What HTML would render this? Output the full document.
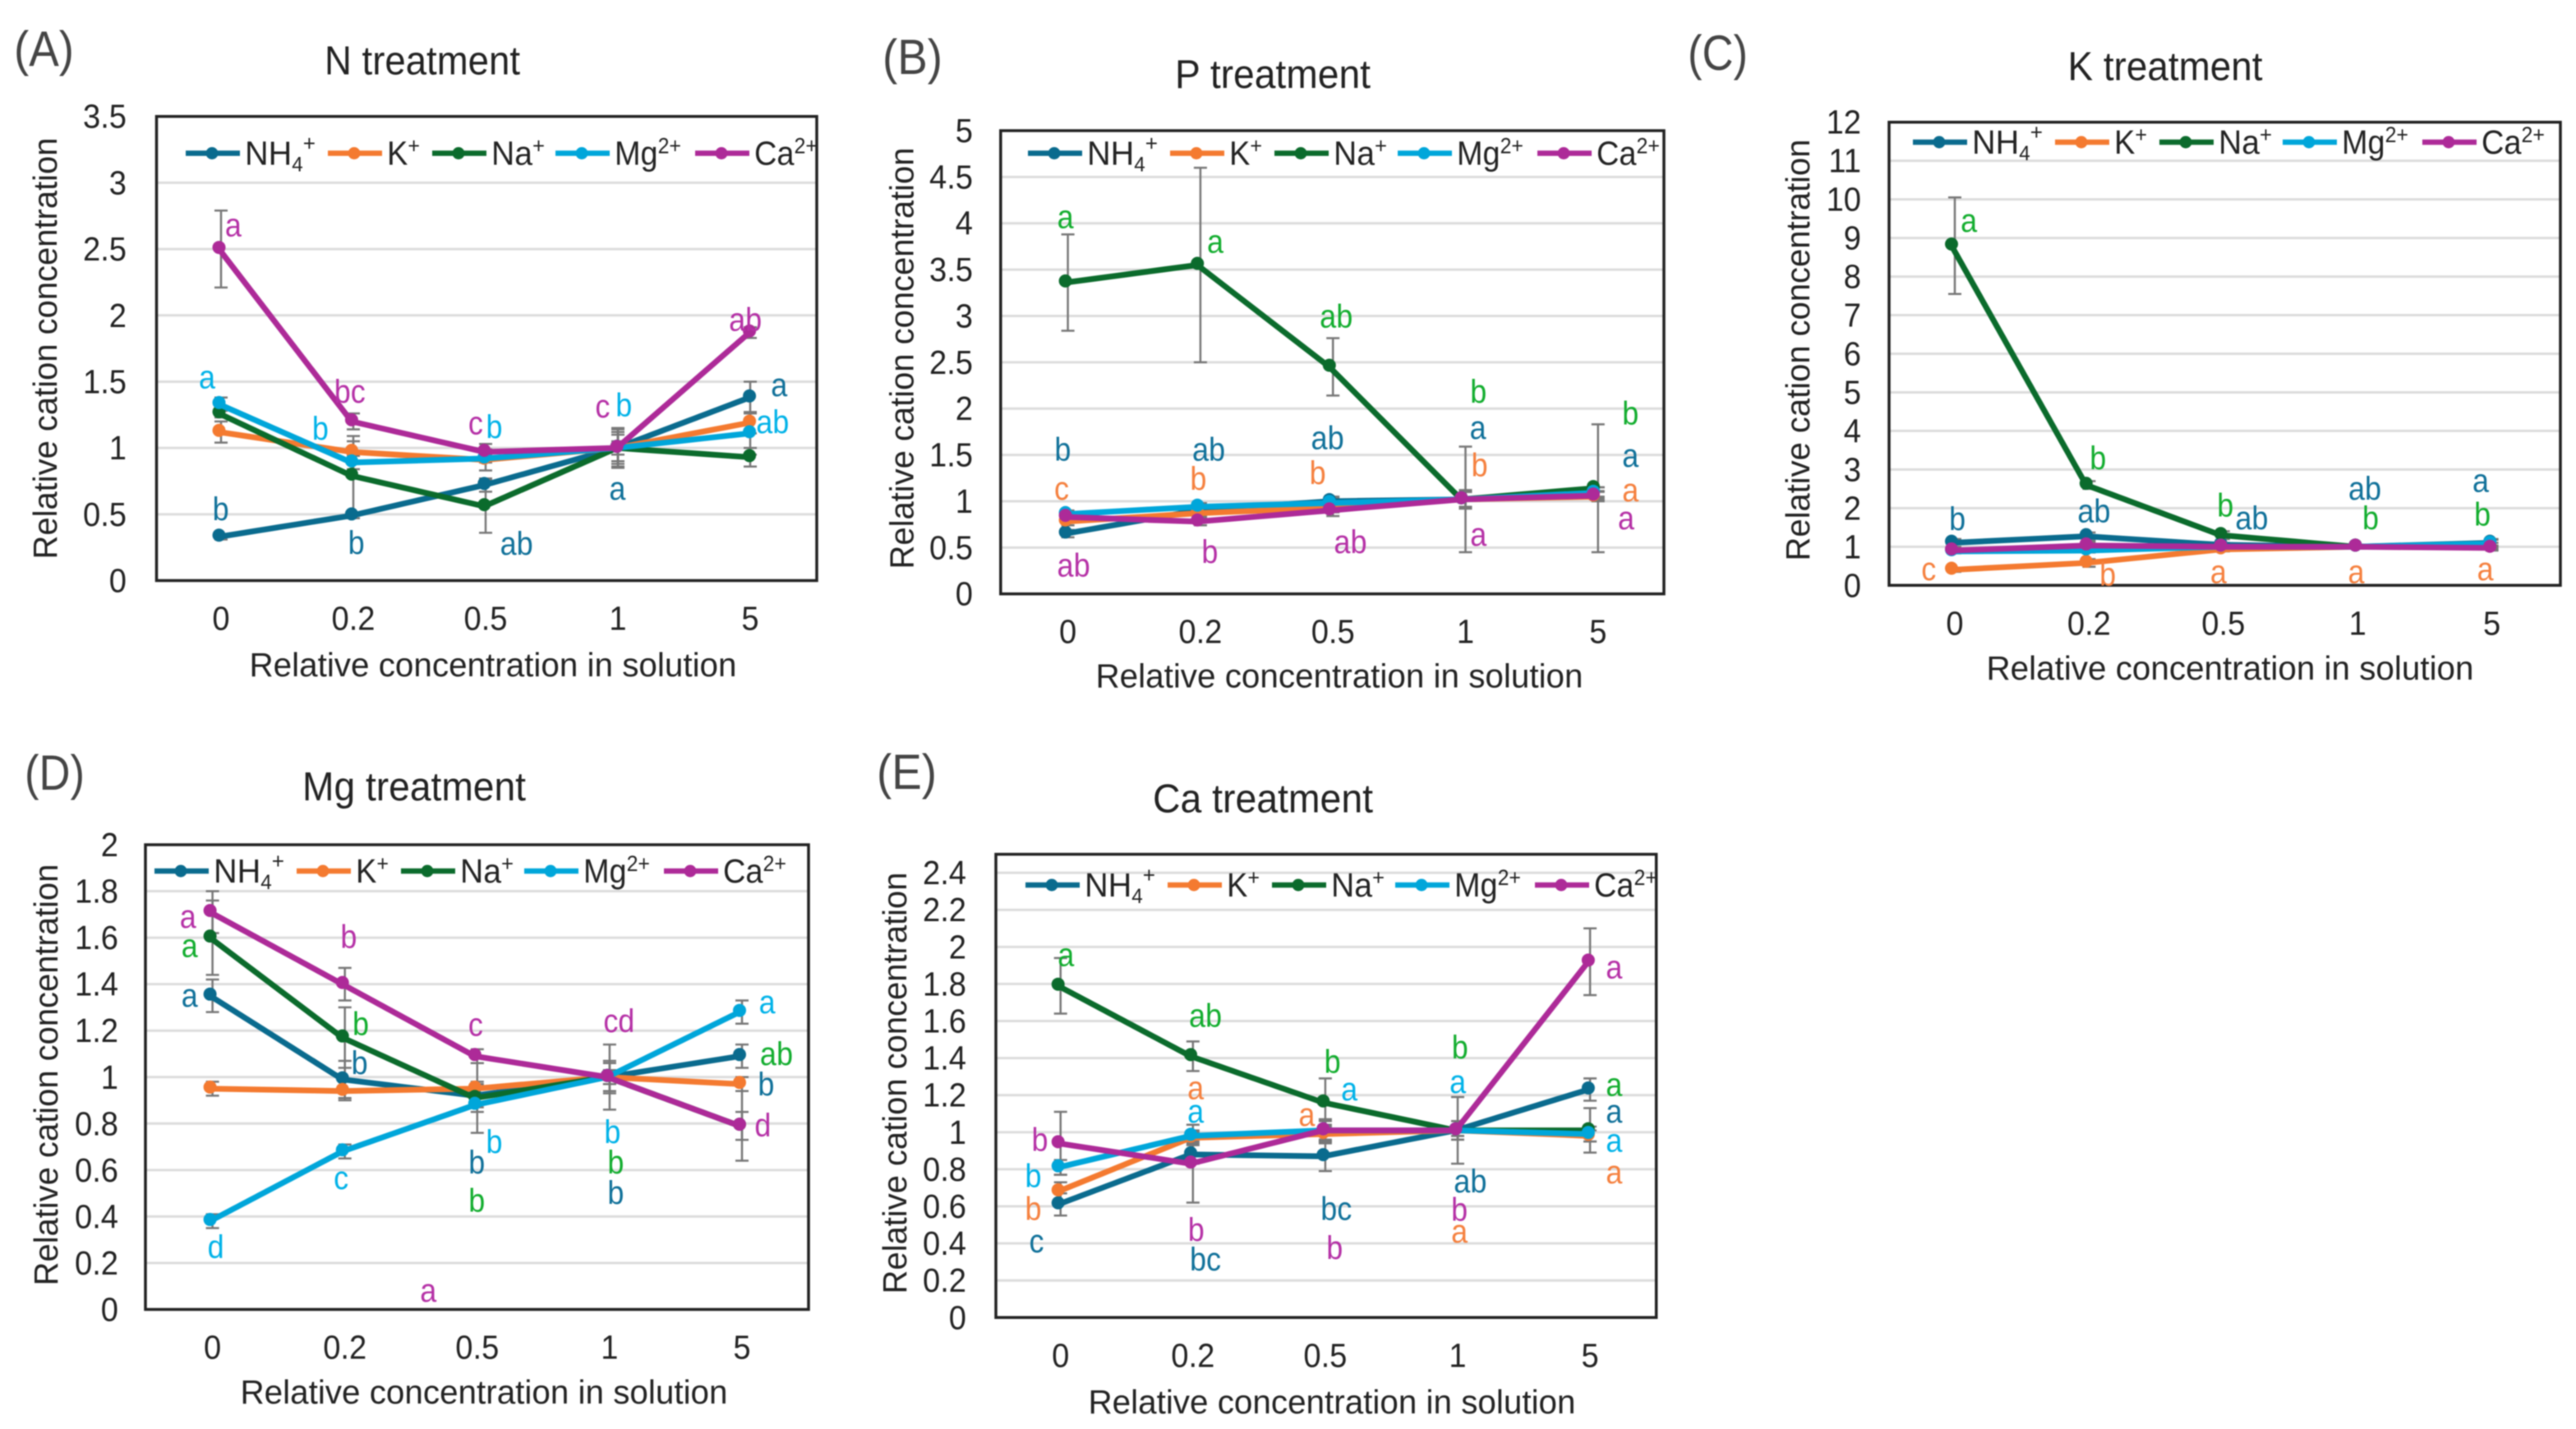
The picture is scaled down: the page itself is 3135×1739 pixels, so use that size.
<!DOCTYPE html>
<html lang="en">
<head>
<meta charset="utf-8">
<title>Relative cation concentration under nutrient treatments</title>
<style>
  html,body{margin:0;padding:0;background:#fff;width:3135px;height:1739px;overflow:hidden}
  svg{display:block;filter:blur(0.7px)}
  text{font-family:"Liberation Sans",sans-serif;fill:#222}
</style>
</head>
<body>
<svg id="figure" xmlns="http://www.w3.org/2000/svg" width="3135" height="1739" viewBox="0 0 3135 1739"></svg>
<script>
const categories = ["0", "0.2", "0.5", "1", "5"];
const seriesNames = ["NH4", "K", "Na", "Mg", "Ca"];

const panelA_max = 3.5;
const panelA_ticks = ["0", "0.5", "1", "1.5", "2", "2.5", "3", "3.5"];
const panelA_NH4 = [0.33, 0.49, 0.72, 1.0, 1.38];
const panelA_K = [1.12, 0.97, 0.91, 1.0, 1.19];
const panelA_Na = [1.26, 0.79, 0.56, 1.0, 0.93];
const panelA_Mg = [1.33, 0.89, 0.92, 1.0, 1.11];
const panelA_Ca = [2.5, 1.2, 0.97, 1.0, 1.87];
const panelA_errNH4 = [0.02, 0.02, 0.05, 0.15, 0.12];
const panelA_errK = [0.08, 0.08, 0.08, 0.12, 0.08];
const panelA_errNa = [0.03, 0.3, 0.2, 0.14, 0.07];
const panelA_errMg = [0.05, 0.05, 0.03, 0.1, 0.16];
const panelA_errCa = [0.29, 0.06, 0.06, 0.05, 0.04];

const panelB_max = 5;
const panelB_ticks = ["0", "0.5", "1", "1.5", "2", "2.5", "3", "3.5", "4", "4.5", "5"];
const panelB_NH4 = [0.65, 0.9, 1.0, 1.02, 1.1];
const panelB_K = [0.78, 0.87, 0.93, 1.02, 1.05];
const panelB_Na = [3.36, 3.55, 2.45, 1.02, 1.14];
const panelB_Mg = [0.86, 0.94, 0.98, 1.02, 1.09];
const panelB_Ca = [0.83, 0.78, 0.9, 1.02, 1.06];
const panelB_errNH4 = [0.04, 0.05, 0.05, 0.1, 0.05];
const panelB_errK = [0.04, 0.04, 0.05, 0.08, 0.05];
const panelB_errNa = [0.52, 1.05, 0.31, 0.57, 0.69];
const panelB_errMg = [0.04, 0.04, 0.05, 0.08, 0.06];
const panelB_errCa = [0.04, 0.04, 0.06, 0.08, 0.05];

const panelC_max = 12;
const panelC_ticks = ["0", "1", "2", "3", "4", "5", "6", "7", "8", "9", "10", "11", "12"];
const panelC_NH4 = [1.1, 1.27, 1.05, 1.0, 1.1];
const panelC_K = [0.4, 0.58, 0.93, 1.0, 0.98];
const panelC_Na = [8.8, 2.6, 1.3, 1.0, 1.0];
const panelC_Mg = [0.88, 0.9, 1.0, 1.0, 1.08];
const panelC_Ca = [0.9, 1.03, 1.0, 1.0, 0.97];
const panelC_errNH4 = [0.1, 0.1, 0.05, 0.05, 0.1];
const panelC_errK = [0.05, 0.1, 0.05, 0.05, 0.05];
const panelC_errNa = [1.25, 0.1, 0.1, 0.05, 0.1];
const panelC_errMg = [0.05, 0.05, 0.05, 0.05, 0.1];
const panelC_errCa = [0.05, 0.1, 0.05, 0.05, 0.05];

const panelD_max = 2;
const panelD_ticks = ["0", "0.2", "0.4", "0.6", "0.8", "1", "1.2", "1.4", "1.6", "1.8", "2"];
const panelD_NH4 = [1.35, 0.99, 0.92, 1.0, 1.09];
const panelD_K = [0.95, 0.94, 0.95, 1.0, 0.97];
const panelD_Na = [1.6, 1.17, 0.91, 1.0, 0.79];
const panelD_Mg = [0.38, 0.68, 0.88, 1.0, 1.28];
const panelD_Ca = [1.71, 1.4, 1.09, 1.0, 0.79];
const panelD_errNH4 = [0.07, 0.08, 0.05, 0.06, 0.05];
const panelD_errK = [0.03, 0.04, 0.03, 0.03, 0.03];
const panelD_errNa = [0.16, 0.13, 0.15, 0.07, 0.06];
const panelD_errMg = [0.03, 0.03, 0.03, 0.03, 0.05];
const panelD_errCa = [0.09, 0.07, 0.03, 0.14, 0.15];

const panelE_max = 2.5;
const panelE_ticks = ["0", "0.2", "0.4", "0.6", "0.8", "1", "1.2", "1.4", "1.6", "1.8", "2", "2.2", "2.4"];
const panelE_NH4 = [0.61, 0.88, 0.87, 1.01, 1.23];
const panelE_K = [0.68, 0.97, 0.99, 1.01, 0.98];
const panelE_Na = [1.79, 1.41, 1.16, 1.01, 1.01];
const panelE_Mg = [0.81, 0.98, 1.01, 1.01, 0.99];
const panelE_Ca = [0.94, 0.83, 1.01, 1.01, 1.92];
const panelE_errNH4 = [0.06, 0.05, 0.08, 0.05, 0.06];
const panelE_errK = [0.05, 0.03, 0.05, 0.03, 0.03];
const panelE_errNa = [0.15, 0.08, 0.13, 0.05, 0.12];
const panelE_errMg = [0.04, 0.03, 0.05, 0.03, 0.04];
const panelE_errCa = [0.17, 0.21, 0.06, 0.18, 0.18];

const NS = "http://www.w3.org/2000/svg";
const svg = document.getElementById("figure");
const lineColor = { NH4: "#0a6b8e", K: "#f47a30", Na: "#0b6b2c", Mg: "#00a6da", Ca: "#ad2a98" };
const noteColor = { NH4: "#0f7099", K: "#f5803e", Na: "#12ad2e", Mg: "#00b2e8", Ca: "#b530a6" };
const legendOffsets = [0, 173, 300, 450, 620];

function make(tag, attrs, parent) {
  const el = document.createElementNS(NS, tag);
  for (const k in attrs) el.setAttribute(k, attrs[k]);
  parent.appendChild(el);
  return el;
}

// squeeze a text element horizontally so a taller face keeps the reference width
function narrow(el, factor) {
  el.setAttribute("textLength", (el.getComputedTextLength() * factor).toFixed(1));
  el.setAttribute("lengthAdjust", "spacingAndGlyphs");
}

function drawPanel(cfg) {
  const g = make("g", {}, svg);
  
  
  const yOf = v => cfg.bottom - (v / cfg.max) * (cfg.bottom - cfg.top);
  const labelX = i => cfg.labelX0 + i * cfg.labelDx;
  const markX = i => cfg.markX0 + i * cfg.markDx;

  // panel letter
  const letter = make("text", { x: cfg.letterX, y: cfg.letterY, "font-size": 60, textLength: 73, lengthAdjust: "spacingAndGlyphs", style: "fill:#444" }, g);
  letter.textContent = "(" + cfg.id.toUpperCase() + ")";
  
  

  // title
  const title = make("text", { x: cfg.titleX, y: cfg.titleY, "font-size": 49, "text-anchor": "middle", textLength: cfg.titleW, lengthAdjust: "spacingAndGlyphs" }, g);
  title.textContent = cfg.title;
  
  

  // gridlines and y tick labels
  cfg.ticks.forEach(t => {
    const y = yOf(parseFloat(t));
    if (parseFloat(t) > 0 && parseFloat(t) < cfg.max) {
      const grid = make("line", { x1: cfg.left, x2: cfg.right, y1: y, y2: y, stroke: "#dcdcdc", "stroke-width": 3 }, g);
      
      
    }
    const lab = make("text", { x: cfg.tickRight, y: y + 14, "font-size": 41, "text-anchor": "end" }, g);
    lab.textContent = t;
    narrow(lab, 0.93);
    
    
  });

  // plot frame
  const frame = make("rect", { x: cfg.left, y: cfg.top, width: cfg.right - cfg.left, height: cfg.bottom - cfg.top, fill: "none", stroke: "#222", "stroke-width": 3.5 }, g);
  
  

  // x tick labels
  categories.forEach((c, i) => {
    const lab = make("text", { x: labelX(i), y: cfg.bottom + 60, "font-size": 41, "text-anchor": "middle" }, g);
    lab.textContent = c;
    narrow(lab, 0.93);
    
    
  });

  // axis titles
  const xt = make("text", { x: cfg.xTitleX, y: cfg.xTitleY, "font-size": 41, "text-anchor": "middle", textLength: 593, lengthAdjust: "spacingAndGlyphs" }, g);
  xt.textContent = "Relative concentration in solution";
  
  
  const yt = make("text", { x: 0, y: 0, "font-size": 41, "text-anchor": "middle", textLength: 513, lengthAdjust: "spacingAndGlyphs", transform: "translate(" + cfg.yTitleX + "," + cfg.yTitleY + ") rotate(-90)" }, g);
  yt.textContent = "Relative cation concentration";
  
  

  // error bars
  seriesNames.forEach((s, si) => {
    cfg.errors[si].forEach((e, i) => {
      const v = cfg.values[si][i];
      const x = labelX(i);
      const y1 = yOf(v - e), y2 = yOf(v + e);
      const bar = make("path", { d: "M" + x + " " + y1 + "V" + y2 + "M" + (x - 8) + " " + y1 + "H" + (x + 8) + "M" + (x - 8) + " " + y2 + "H" + (x + 8), stroke: "#777", "stroke-width": 2.5, fill: "none" }, g);
      
      
    });
  });

  // series lines and markers
  seriesNames.forEach((s, si) => {
    const vals = cfg.values[si];
    const pts = vals.map((v, i) => markX(i) + "," + yOf(v)).join(" ");
    const line = make("polyline", { points: pts, fill: "none", stroke: lineColor[s], "stroke-width": 7, "stroke-linejoin": "round" }, g);
    
    
    vals.forEach((v, i) => {
      const dot = make("circle", { cx: markX(i), cy: yOf(v) - 2, r: 8, fill: lineColor[s] }, g);
      
      
    });
  });

  // legend
  seriesNames.forEach((s, si) => {
    const entry = make("g", {}, g);
    
    
    const lx = cfg.legendX + legendOffsets[si];
    make("line", { x1: lx, x2: lx + 66, y1: cfg.legendY, y2: cfg.legendY, stroke: lineColor[s], "stroke-width": 6.5 }, entry);
    make("circle", { cx: lx + 32, cy: cfg.legendY, r: 7.5, fill: lineColor[s] }, entry);
    const t = make("text", { x: lx + 72, y: cfg.legendY + 14, "font-size": 41, textLength: [86, 40, 65, 81, 77][si], lengthAdjust: "spacingAndGlyphs" }, entry);
    const parts = {
      NH4: [["NH", 41, 0], ["4", 25, 8], ["+", 27, -25]],
      K: [["K", 41, 0], ["+", 27, -14]],
      Na: [["Na", 41, 0], ["+", 27, -14]],
      Mg: [["Mg", 41, 0], ["2+", 27, -14]],
      Ca: [["Ca", 41, 0], ["2+", 27, -14]]
    }[s];
    parts.forEach(p => {
      const ts = make("tspan", { "font-size": p[1], dy: p[2] }, t);
      ts.textContent = p[0];
    });
  });

  return g;
}

// significance letter placed by its glyph centre inside the panel's area
function note(ctx, text, series, zx, zy) {
  const t = make("text", { x: ctx.x0 + zx / ctx.sx, y: ctx.y0 + zy / 1.823 + 13, "font-size": 40, "text-anchor": "middle", style: "fill:" + noteColor[series] }, ctx.g);
  t.textContent = text;
  narrow(t, 0.9);
  
  
}

const gA = drawPanel({
  id: "a", title: "N treatment", max: panelA_max, ticks: panelA_ticks,
  values: [panelA_NH4, panelA_K, panelA_Na, panelA_Mg, panelA_Ca],
  errors: [panelA_errNH4, panelA_errK, panelA_errNa, panelA_errMg, panelA_errCa],
  left: 190.5, right: 994, top: 141.7, bottom: 706.5,
  labelX0: 269, labelDx: 161, markX0: 266.5, markDx: 161.4, tickRight: 154,
  letterX: 17, letterY: 80, titleX: 514, titleY: 90.5, titleW: 238,
  xTitleX: 600, xTitleY: 823, yTitleX: 69, yTitleY: 424, legendX: 226, legendY: 186.5
});
const gB = drawPanel({
  id: "b", title: "P treatment", max: panelB_max, ticks: panelB_ticks,
  values: [panelB_NH4, panelB_K, panelB_Na, panelB_Mg, panelB_Ca],
  errors: [panelB_errNH4, panelB_errK, panelB_errNa, panelB_errMg, panelB_errCa],
  left: 1217.8, right: 2025, top: 159, bottom: 722.7,
  labelX0: 1299.6, labelDx: 161.3, markX0: 1296.6, markDx: 160.6, tickRight: 1184,
  letterX: 1074, letterY: 90, titleX: 1549, titleY: 107, titleW: 238,
  xTitleX: 1630, xTitleY: 836.5, yTitleX: 1111.6, yTitleY: 436, legendX: 1251, legendY: 186.5
});
const gC = drawPanel({
  id: "c", title: "K treatment", max: panelC_max, ticks: panelC_ticks,
  values: [panelC_NH4, panelC_K, panelC_Na, panelC_Mg, panelC_Ca],
  errors: [panelC_errNH4, panelC_errK, panelC_errNa, panelC_errMg, panelC_errCa],
  left: 2299, right: 3116, top: 148.7, bottom: 712.3,
  labelX0: 2379, labelDx: 163.4, markX0: 2375, markDx: 163.8, tickRight: 2265,
  letterX: 2054, letterY: 85, titleX: 2635, titleY: 97.6, titleW: 237,
  xTitleX: 2714, xTitleY: 827, yTitleX: 2202, yTitleY: 426, legendX: 2328, legendY: 173
});
const gD = drawPanel({
  id: "d", title: "Mg treatment", max: panelD_max, ticks: panelD_ticks,
  values: [panelD_NH4, panelD_K, panelD_Na, panelD_Mg, panelD_Ca],
  errors: [panelD_errNH4, panelD_errK, panelD_errNa, panelD_errMg, panelD_errCa],
  left: 177, right: 984, top: 1028, bottom: 1593.5,
  labelX0: 258.6, labelDx: 161.1, markX0: 255.6, markDx: 161.1, tickRight: 144,
  letterX: 30, letterY: 961, titleX: 504, titleY: 974, titleW: 272,
  xTitleX: 589, xTitleY: 1708, yTitleX: 70, yTitleY: 1308, legendX: 188, legendY: 1060
});
const gE = drawPanel({
  id: "e", title: "Ca treatment", max: panelE_max, ticks: panelE_ticks,
  values: [panelE_NH4, panelE_K, panelE_Na, panelE_Mg, panelE_Ca],
  errors: [panelE_errNH4, panelE_errK, panelE_errNa, panelE_errMg, panelE_errCa],
  left: 1212, right: 2015.7, top: 1039.6, bottom: 1603.3,
  labelX0: 1290.7, labelDx: 161.1, markX0: 1287.7, markDx: 161.3, tickRight: 1176,
  letterX: 1067, letterY: 960, titleX: 1537, titleY: 988.6, titleW: 268,
  xTitleX: 1621, xTitleY: 1720, yTitleX: 1103, yTitleY: 1318, legendX: 1248, legendY: 1077
});

const A = { g: gA, x0: 0, y0: 0, sx: 1.508 };
note(A, "a", "Ca", 428, 500); note(A, "a", "Mg", 380, 838); note(A, "b", "Mg", 588, 952);
note(A, "bc", "Ca", 642, 870); note(A, "c", "Ca", 873, 940); note(A, "b", "Mg", 907, 948);
note(A, "c", "Ca", 1106, 902); note(A, "b", "Mg", 1145, 900); note(A, "ab", "Ca", 1368, 710);
note(A, "a", "NH4", 1430, 855); note(A, "ab", "Mg", 1418, 937); note(A, "b", "NH4", 405, 1130);
note(A, "b", "NH4", 654, 1205); note(A, "ab", "NH4", 948, 1207); note(A, "a", "NH4", 1133, 1085);

const B = { g: gB, x0: 1040, y0: 0, sx: 1.508 };
note(B, "a", "Na", 387, 482); note(B, "a", "Na", 662, 537); note(B, "ab", "Na", 884, 703);
note(B, "b", "Na", 1145, 870); note(B, "b", "Na", 1424, 918); note(B, "b", "NH4", 382, 998);
note(B, "ab", "NH4", 650, 998); note(B, "ab", "NH4", 868, 973); note(B, "a", "NH4", 1144, 950);
note(B, "a", "NH4", 1424, 1012); note(B, "c", "K", 380, 1085); note(B, "b", "K", 631, 1063);
note(B, "b", "K", 850, 1050); note(B, "b", "K", 1147, 1033); note(B, "a", "K", 1424, 1088);
note(B, "a", "Ca", 1416, 1150); note(B, "a", "Ca", 1145, 1187); note(B, "ab", "Ca", 910, 1203);
note(B, "b", "Ca", 652, 1225); note(B, "ab", "Ca", 402, 1255);

const C = { g: gC, x0: 2040, y0: 0, sx: 1.432 };
note(C, "a", "Na", 510, 490); note(C, "b", "Na", 735, 1017); note(C, "b", "Na", 957, 1122);
note(C, "ab", "NH4", 1003, 1150); note(C, "b", "NH4", 490, 1152); note(C, "ab", "NH4", 728, 1135);
note(C, "ab", "NH4", 1200, 1085); note(C, "b", "Na", 1210, 1150); note(C, "a", "NH4", 1402, 1067);
note(C, "b", "Na", 1405, 1142); note(C, "c", "K", 440, 1263); note(C, "b", "K", 752, 1275);
note(C, "a", "K", 945, 1270); note(C, "a", "K", 1185, 1270); note(C, "a", "K", 1410, 1263);

const D = { g: gD, x0: 0, y0: 880, sx: 1.508 };
note(D, "a", "Ca", 345, 430); note(D, "a", "Na", 348, 495); note(D, "a", "NH4", 348, 605);
note(D, "b", "Ca", 640, 475); note(D, "b", "Na", 662, 668); note(D, "b", "NH4", 660, 755);
note(D, "c", "Ca", 873, 670); note(D, "b", "Mg", 907, 930); note(D, "b", "NH4", 875, 975);
note(D, "b", "Na", 875, 1060); note(D, "cd", "Ca", 1136, 662); note(D, "b", "Mg", 1124, 908);
note(D, "b", "Na", 1130, 975); note(D, "b", "NH4", 1130, 1043); note(D, "a", "Mg", 1408, 620);
note(D, "ab", "Na", 1425, 735); note(D, "b", "NH4", 1406, 802); note(D, "d", "Ca", 1400, 893);
note(D, "c", "Mg", 626, 1010); note(D, "d", "Mg", 396, 1163); note(D, "a", "Ca", 786, 1260);

const E = { g: gE, x0: 1040, y0: 880, sx: 1.508 };
note(E, "a", "Na", 388, 515); note(E, "ab", "Na", 644, 650); note(E, "b", "Na", 877, 752);
note(E, "b", "Na", 1111, 720); note(E, "a", "Ca", 1394, 542); note(E, "a", "Na", 1394, 803);
note(E, "a", "NH4", 1394, 862); note(E, "a", "Mg", 1394, 927); note(E, "a", "K", 1394, 997);
note(E, "a", "K", 626, 810); note(E, "a", "Mg", 626, 862); note(E, "a", "Mg", 908, 813);
note(E, "a", "K", 830, 870); note(E, "a", "Mg", 1107, 797); note(E, "b", "Ca", 340, 925);
note(E, "b", "Mg", 328, 1005); note(E, "b", "K", 328, 1078); note(E, "c", "NH4", 334, 1150);
note(E, "b", "Ca", 627, 1125); note(E, "bc", "NH4", 644, 1190); note(E, "bc", "NH4", 884, 1078);
note(E, "b", "Ca", 881, 1165); note(E, "ab", "NH4", 1130, 1017); note(E, "b", "Ca", 1110, 1080);
note(E, "a", "K", 1110, 1128);
</script>
</body>
</html>
